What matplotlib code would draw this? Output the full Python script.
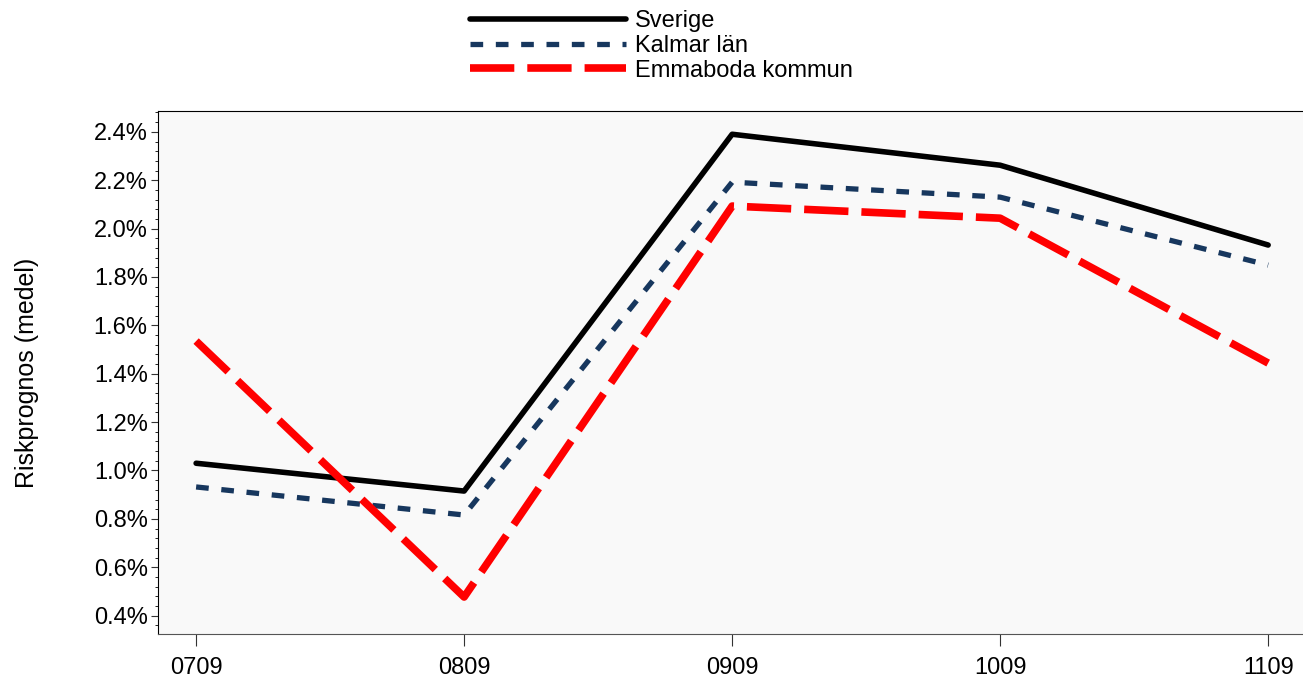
import matplotlib
matplotlib.use("Agg")
import matplotlib.pyplot as plt
from matplotlib.ticker import FuncFormatter, MultipleLocator, AutoMinorLocator

plt.rcParams['font.family'] = ['Liberation Sans', 'DejaVu Sans']

periods = ["0709", "0809", "0909", "1009", "1109"]
sverige = [1.03, 0.915, 2.39, 2.262, 1.932]
kalmar = [0.932, 0.816, 2.192, 2.130, 1.849]
emmaboda = [1.535, 0.477, 2.093, 2.043, 1.444]

fig = plt.figure(figsize=(13.03, 6.87), dpi=100)
ax = fig.add_axes([0.1213, 0.0771, 0.8787, 0.7613])
ax.set_facecolor('#f9f9f9')

x = list(range(len(periods)))
ax.plot(x, sverige, color='black', lw=4.0, solid_capstyle='round', label='Sverige')
ax.plot(x, kalmar, color='#17375e', lw=3.8, dashes=(2.4, 2.4), label='Kalmar län')
ax.plot(x, emmaboda, color='#ff0000', lw=5.5, dashes=(5.8, 1.7), label='Emmaboda kommun')

ax.set_xlim(-0.142, 4.13)
ax.set_ylim(0.324, 2.486)
ax.set_xticks(x)
ax.set_xticklabels(periods)
ax.yaxis.set_major_locator(MultipleLocator(0.2))
ax.yaxis.set_minor_locator(AutoMinorLocator(5))
ax.yaxis.set_major_formatter(FuncFormatter(lambda v, p: f"{v:.1f}%"))
ax.tick_params(axis='both', labelsize=17, direction='out', color='#333333', labelcolor='black')
ax.tick_params(axis='y', which='major', length=5, pad=2.5)
ax.tick_params(axis='y', which='minor', length=2.2)
ax.tick_params(axis='x', length=8.6, pad=8)
for s in ['top', 'left']:
    ax.spines[s].set_color('black')
ax.spines['bottom'].set_color('#555555')
ax.spines['right'].set_visible(False)

ax.set_ylabel('Riskprognos (medel)', fontsize=18, labelpad=39)

fig.legend(*ax.get_legend_handles_labels(), loc='upper left',
           bbox_to_anchor=(470 / 1303, 1 - 10 / 687), bbox_transform=fig.transFigure,
           frameon=False, fontsize=17, handlelength=6.6, handletextpad=0.4,
           labelspacing=0.12, borderaxespad=0, borderpad=0)

fig.savefig('out.png', dpi=100)
